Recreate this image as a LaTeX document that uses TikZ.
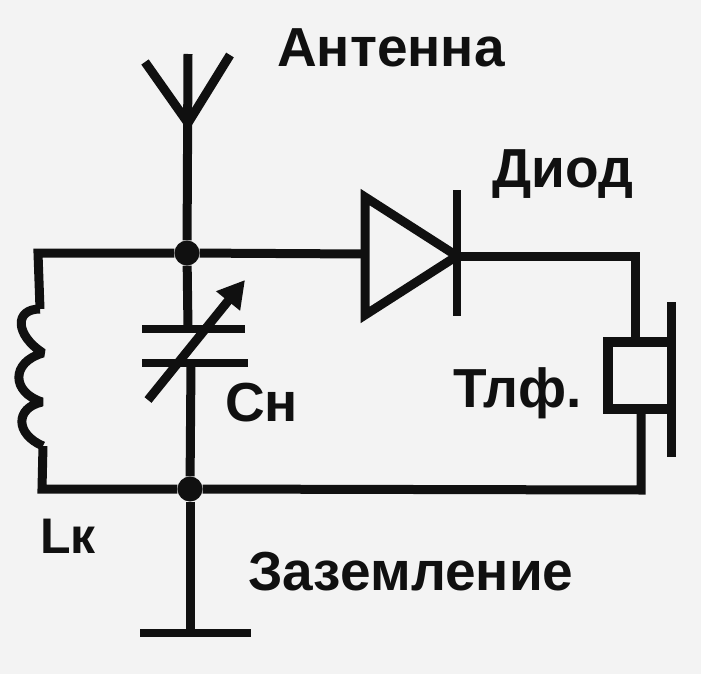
\documentclass[tikz,border=0pt]{standalone}
\usepackage{fontspec}
\setmainfont{Liberation Sans}
\usetikzlibrary{arrows.meta}
\definecolor{paper}{HTML}{F3F3F3}
\definecolor{ink}{HTML}{101010}
\tikzset{
	wire/.style = {draw = ink, line width = 9pt, line join = miter},
	plate/.style = {draw = ink, line width = 8.5pt},
	junction/.style = {circle, fill = ink, inner sep = 0pt, minimum size = 25pt},
	label/.style = {text = ink, inner sep = 0pt, anchor = base west, font = \bfseries\fontsize{55}{55}\selectfont}
}

\begin{document}
\begin{tikzpicture}[x = 1pt, y = -1pt]
		\useasboundingbox [fill = paper] (0,0) rectangle (701,674);
		
		\node [junction] (top joint) at (187,253) {};
		\node [junction] (bottom joint) at (190,489) {};
		
		\coordinate (aerial top) at (188,54);
		\coordinate (aerial foot) at (188,123);
		\coordinate (aerial left) at (145,62);
		\coordinate (aerial right) at (230,55);
		\coordinate (top left) at (38,253);
		\coordinate (coil top) at (40,309);
		\coordinate (coil bottom) at (43,446);
		\coordinate (bottom left) at (42,489);
		\coordinate (plate upper) at (188,329);
		\coordinate (plate lower) at (191,363);
		\coordinate (ground) at (190,633);
		\coordinate (diode in) at (365,254);
		\coordinate (diode out) at (457,256);
		\coordinate (top right) at (635,256);
		\coordinate (phone in) at (635,342);
		\coordinate (phone out) at (641,409);
		\coordinate (bottom right) at (641,490);
		
		% antenna
		\draw [wire] (aerial left) -- (aerial foot) -- (aerial right);
		\draw [wire] (aerial top) -- (top joint);
		
		% tuning capacitor
		\draw [wire] (top joint) -- (plate upper);
		\draw [wire] (plate lower) -- (bottom joint);
		\draw [plate] (142,329) -- (245,329);
		\draw [plate] (142,363) -- (248,363);
		\draw [wire, -{Triangle[length = 27pt, width = 29pt]}] (148,400) -- (245,280);
		
		% coil
		\draw [wire] (top joint) -- (top left) -- (coil top);
		\draw [wire, line join = bevel] (coil top) .. controls (14,309) and (15,335) .. (43,353)
			.. controls (11,362) and (11,392) .. (42,402)
			.. controls (15,408) and (15,434) .. (coil bottom);
		\draw [wire] (coil bottom) -- (bottom left) -- (bottom joint);
		
		% diode
		\draw [wire] (top joint) -- (diode in);
		\draw [wire] (365,197) -- (diode out) -- (365,315) -- cycle;
		\draw [plate] (457,190) -- (457,316);
		\draw [wire] (diode out) -- (top right) -- (phone in);
		
		% phone
		\draw [wire, line width = 10pt] (671,342) -- (608,342) -- (608,409) -- (671,409);
		\draw [plate, line width = 9pt] (671,302) -- (671,457);
		\draw [wire] (phone out) -- (bottom right) -- (bottom joint);
		\draw [wire] (bottom joint) -- (ground);
		\draw [plate] (140,633) -- (251,633);
		
		\node [label] (aerial label) at (277,67) {Антенна};
		\node [label] (diode label) at (492,187) {Диод};
		\node [label] (capacitor label) at (225,421) {Сн};
		\node [label] (phone label) at (453,407) {Тлф.};
		\node [label, font = \bfseries\fontsize{50}{50}\selectfont] (coil label) at (40,553) {Lк};
		\node [label] (ground label) at (248,590) {Заземление};
	\end{tikzpicture}
\end{document}
